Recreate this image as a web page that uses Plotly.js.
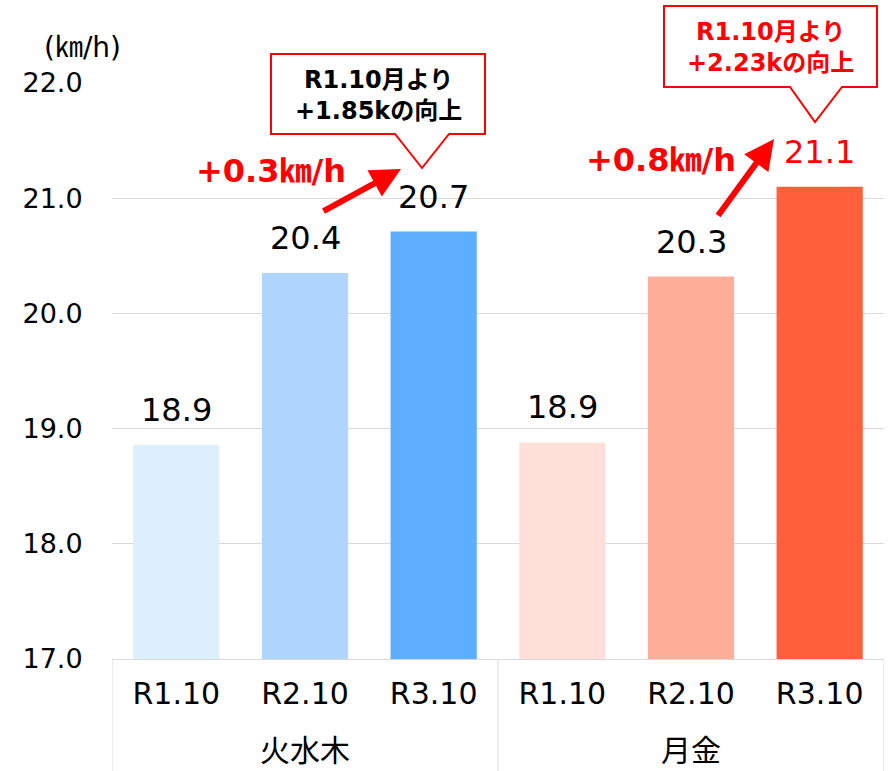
<!DOCTYPE html>
<html>
<head>
<meta charset="utf-8">
<script src="https://cdn.plot.ly/plotly-3.0.1.min.js"></script>
<style>
html,body{margin:0;padding:0;background:#fff;}
#chart{width:890px;height:771px;}
</style>
</head>
<body>
<div id="chart"></div>
<script>
// ---- data ----
const groups = ["火水木", "火水木", "火水木", "月金", "月金", "月金"];
const periods = ["R1.10", "R2.10", "R3.10", "R1.10", "R2.10", "R3.10"];
const speeds = [18.86, 20.35, 20.71, 18.88, 20.32, 21.10];
const labels = ["18.9", "20.4", "20.7", "18.9", "20.3", "21.1"];
const barColors = ["#DDEEFD", "#B0D5FE", "#5DAEFF", "#FFDFD8", "#FFAE99", "#FF5F3B"];
const labelColors = ["#000000", "#000000", "#000000", "#000000", "#000000", "#FF0000"];
const yTicks = [17, 18, 19, 20, 21, 22];
const unitText = "(㎞/h)";
const diffTexts = ["+0.3㎞/h", "+0.8㎞/h"];
const calloutTexts = ["R1.10月より<br>+1.85kの向上", "R1.10月より<br>+2.23kの向上"];

// ---- layout geometry (pixels) ----
const W = 890, Hh = 771;
const M = {l: 112, r: 6, t: 83, b: 112};
const PW = W - M.l - M.r, PH = Hh - M.t - M.b;
const px = x => (x - M.l) / PW;
const py = y => (Hh - M.b - y) / PH;
const FONT = "DejaVu Sans, Noto Sans CJK JP, sans-serif";
const GRID = "#D9D9D9";

function calloutPath(x0, y0, x1, y1, b0, b1, tx, ty) {
  const p = [[x0,y0],[x1,y0],[x1,y1],[b1,y1],[tx,ty],[b0,y1],[x0,y1]];
  return "M" + p.map(q => px(q[0]).toFixed(5) + "," + py(q[1]).toFixed(5)).join(" L") + " Z";
}

const idx = periods.map((_, i) => i);

const trace = {
  type: "bar",
  x: idx,
  y: speeds,
  marker: {color: barColors},
  hoverinfo: "skip",
  showlegend: false
};

const annotations = [];
speeds.forEach((v, i) => {
  annotations.push({
    xref: "x", yref: "y", x: i, y: v,
    text: labels[i], showarrow: false,
    xanchor: "center", yanchor: "middle", yshift: 35,
    font: {family: FONT, size: 32, color: labelColors[i]}
  });
});

// group labels + dividers, built from the groups array
const shapes = [];
let start = 0;
const boundaries = [-0.5];
for (let i = 1; i <= groups.length; i++) {
  if (i === groups.length || groups[i] !== groups[start]) {
    annotations.push({
      xref: "x", yref: "paper", x: (start + i - 1) / 2, y: py(750),
      text: groups[start], showarrow: false, xanchor: "center", yanchor: "middle",
      font: {family: FONT, size: 30, color: "#000"}
    });
    boundaries.push(i - 0.5);
    start = i;
  }
}
boundaries.forEach(b => {
  shapes.push({type: "line", xref: "x", yref: "paper", x0: b, x1: b, y0: 0, y1: py(771),
    line: {color: GRID, width: 1}, layer: "above"});
});

// unit label
annotations.push({xref: "paper", yref: "paper", x: px(82), y: py(47), text: unitText,
  xanchor: "center", yanchor: "middle",
  showarrow: false, font: {family: FONT, size: 28, color: "#000"}});
// difference texts
annotations.push({xref: "paper", yref: "paper", x: px(271), y: py(171), text: "<b>" + diffTexts[0] + "</b>",
  xanchor: "center", yanchor: "middle",
  showarrow: false, font: {family: FONT, size: 32, color: "#FF0000"}});
annotations.push({xref: "paper", yref: "paper", x: px(661), y: py(160), text: "<b>" + diffTexts[1] + "</b>",
  xanchor: "center", yanchor: "middle",
  showarrow: false, font: {family: FONT, size: 32, color: "#FF0000"}});
// arrows
annotations.push({xref: "paper", yref: "paper", x: px(401), y: py(169), ax: -79, ay: 43, text: "",
  showarrow: true, arrowhead: 2, arrowsize: 1, arrowwidth: 6, arrowcolor: "#FF0000"});
annotations.push({xref: "paper", yref: "paper", x: px(774), y: py(139), ax: -57, ay: 78, text: "",
  showarrow: true, arrowhead: 2, arrowsize: 1, arrowwidth: 6, arrowcolor: "#FF0000"});
// callout texts
annotations.push({xref: "paper", yref: "paper", x: px(378), y: py(96), text: "<b>" + calloutTexts[0] + "</b>",
  xanchor: "center", yanchor: "middle",
  showarrow: false, font: {family: FONT, size: 24, color: "#000"}});
annotations.push({xref: "paper", yref: "paper", x: px(770), y: py(47), text: "<b>" + calloutTexts[1] + "</b>",
  xanchor: "center", yanchor: "middle",
  showarrow: false, font: {family: FONT, size: 24, color: "#FF0000"}});

shapes.push(
  {type: "path", xref: "paper", yref: "paper", path: calloutPath(271, 54, 485, 134, 395, 449, 422, 168),
   line: {color: "#FF0000", width: 2}, fillcolor: "#FFFFFF", layer: "above"},
  {type: "path", xref: "paper", yref: "paper", path: calloutPath(664, 6, 877, 87, 790, 842, 815, 122),
   line: {color: "#FF0000", width: 2}, fillcolor: "#FFFFFF", layer: "above"}
);

const layout = {
  width: W, height: Hh,
  margin: M,
  paper_bgcolor: "#FFFFFF",
  plot_bgcolor: "#FFFFFF",
  bargap: 0.33,
  showlegend: false,
  font: {family: FONT, color: "#000"},
  xaxis: {
    range: [-0.5, 5.5],
    tickvals: idx,
    ticktext: periods,
    showline: true, linecolor: GRID, linewidth: 1,
    tickfont: {family: FONT, size: 30, color: "#000"},
    ticks: "outside", ticklen: 8, tickcolor: "rgba(0,0,0,0)",
    showgrid: false, zeroline: false,
    fixedrange: true
  },
  yaxis: {
    range: [17, 22],
    tickvals: yTicks,
    tickformat: ".1f",
    ticks: "outside", ticklen: 23, tickcolor: "rgba(0,0,0,0)",
    tickfont: {family: FONT, size: 27, color: "#000"},
    showgrid: true, gridcolor: GRID, gridwidth: 1,
    zeroline: false, showline: false,
    fixedrange: true
  },
  annotations: annotations,
  shapes: shapes
};

Plotly.newPlot("chart", [trace], layout, {displayModeBar: false, staticPlot: true});
</script>
</body>
</html>
